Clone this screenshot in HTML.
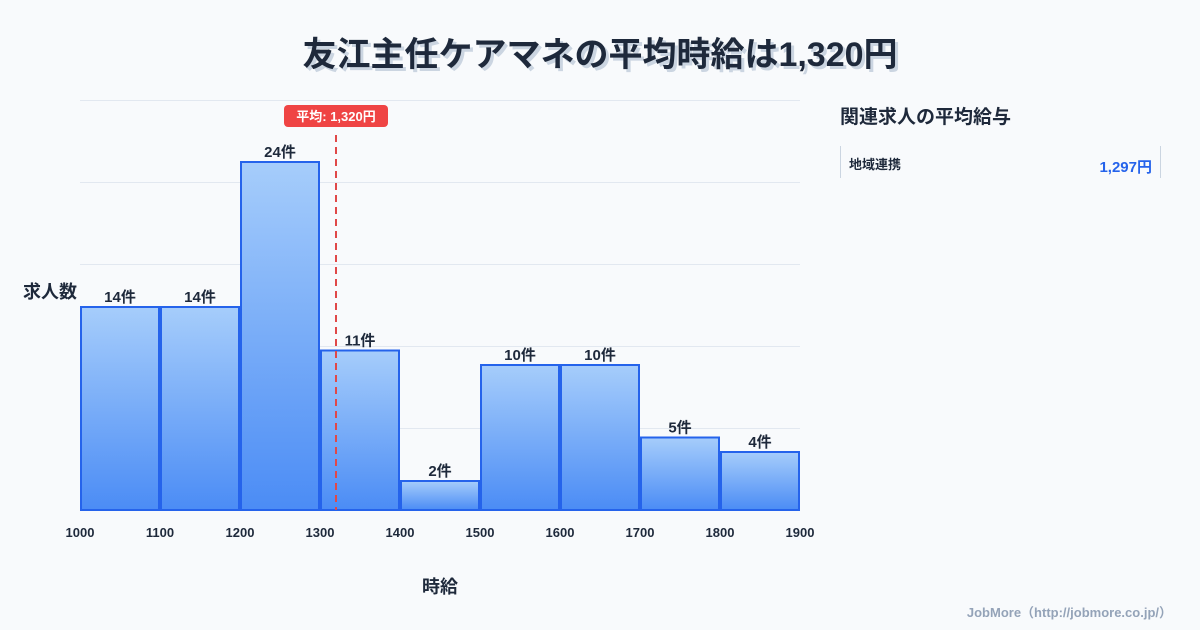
<!DOCTYPE html>
<html><head><meta charset="utf-8">
<style>
body{margin:0;width:1200px;height:630px;background:#f8fafc;font-family:"Liberation Sans","Noto Sans CJK JP",sans-serif;overflow:hidden;position:relative}
</style></head>
<body>
<svg width="1200" height="630" style="position:absolute;left:0;top:0">
<defs>
<linearGradient id="bg" x1="0" y1="0" x2="0" y2="1">
<stop offset="0" stop-color="#a6cdfb"/><stop offset="1" stop-color="#4b8cf5"/>
</linearGradient>
</defs>
<text x="603" y="69" text-anchor="middle" font-size="34" font-weight="bold" fill="#cbd5e1">友江主任ケアマネの平均時給は1,320円</text>
<text x="600" y="66" text-anchor="middle" font-size="34" font-weight="bold" fill="#1e293b">友江主任ケアマネの平均時給は1,320円</text>
<g id="grid"></g>
<g id="bars"></g>
<g id="xticks"></g>
<text x="50" y="298" text-anchor="middle" font-size="18" font-weight="bold" fill="#1e293b">求人数</text>
<text x="440" y="593" text-anchor="middle" font-size="18" font-weight="bold" fill="#1e293b">時給</text>
<g id="avg"></g>
<text x="840" y="123" font-size="19" font-weight="bold" fill="#1e293b">関連求人の平均給与</text>
<line x1="840.5" y1="146" x2="840.5" y2="178" stroke="#cbd5e1"/>
<line x1="1160.5" y1="146" x2="1160.5" y2="178" stroke="#cbd5e1"/>
<text x="849" y="169" font-size="13" font-weight="bold" fill="#1e293b">地域連携</text>
<text x="1152" y="172" text-anchor="end" font-size="15" font-weight="bold" fill="#2563eb">1,297円</text>
<text x="1172" y="617" text-anchor="end" font-size="13" font-weight="bold" fill="#94a3b8">JobMore（http://jobmore.co.jp/）</text>
</svg>
<script>
const binStarts=[1000,1100,1200,1300,1400,1500,1600,1700,1800];
const counts=[14,14,24,11,2,10,10,5,4];
const xTicks=[1000,1100,1200,1300,1400,1500,1600,1700,1800,1900];
const avgValue=1320;
const avgLabel="平均: 1,320円";
const NS="http://www.w3.org/2000/svg";
const x=v=>80+(v-1000)*0.8;
const y=c=>510-c*14.5;
function mk(tag,attrs,parent){const e=document.createElementNS(NS,tag);for(const k in attrs)e.setAttribute(k,attrs[k]);parent.appendChild(e);return e;}
const grid=document.getElementById('grid');
for(let i=0;i<6;i++){
 const gy=100+i*82;
 const l=mk('line',{x1:80,x2:800,y1:gy+0.5,y2:gy+0.5,stroke:'#e2e8f0'},grid);
 
 
}
const bars=document.getElementById('bars');
binStarts.forEach((b,i)=>{
 const r=mk('rect',{x:x(b)+1,y:y(counts[i]),width:x(b+100)-x(b)-2,height:510-y(counts[i]),fill:'url(#bg)',stroke:'#2563eb','stroke-width':2},bars);
 
 
 const t=mk('text',{x:x(b+50),y:y(counts[i])-5,'text-anchor':'middle','font-size':15,'font-weight':'bold',fill:'#1e293b'},bars);
 t.textContent=counts[i]+'件';
 
 
});
const xt=document.getElementById('xticks');
xTicks.forEach(v=>{
 const t=mk('text',{x:x(v),y:537,'text-anchor':'middle','font-size':13,'font-weight':'bold',fill:'#1e293b'},xt);
 t.textContent=v;
 
 
});
const avg=document.getElementById('avg');
const ax=x(avgValue);
const al=mk('line',{x1:ax,x2:ax,y1:135,y2:510,stroke:'#e04848','stroke-width':2,'stroke-dasharray':'7,5'},avg);


const ar=mk('rect',{x:ax-52,y:105,width:104,height:22,rx:4,fill:'#ef4444'},avg);


const at=mk('text',{x:ax,y:121,'text-anchor':'middle','font-size':13,'font-weight':'bold',fill:'#fff'},avg);
at.textContent=avgLabel;


</script>
</body></html>
